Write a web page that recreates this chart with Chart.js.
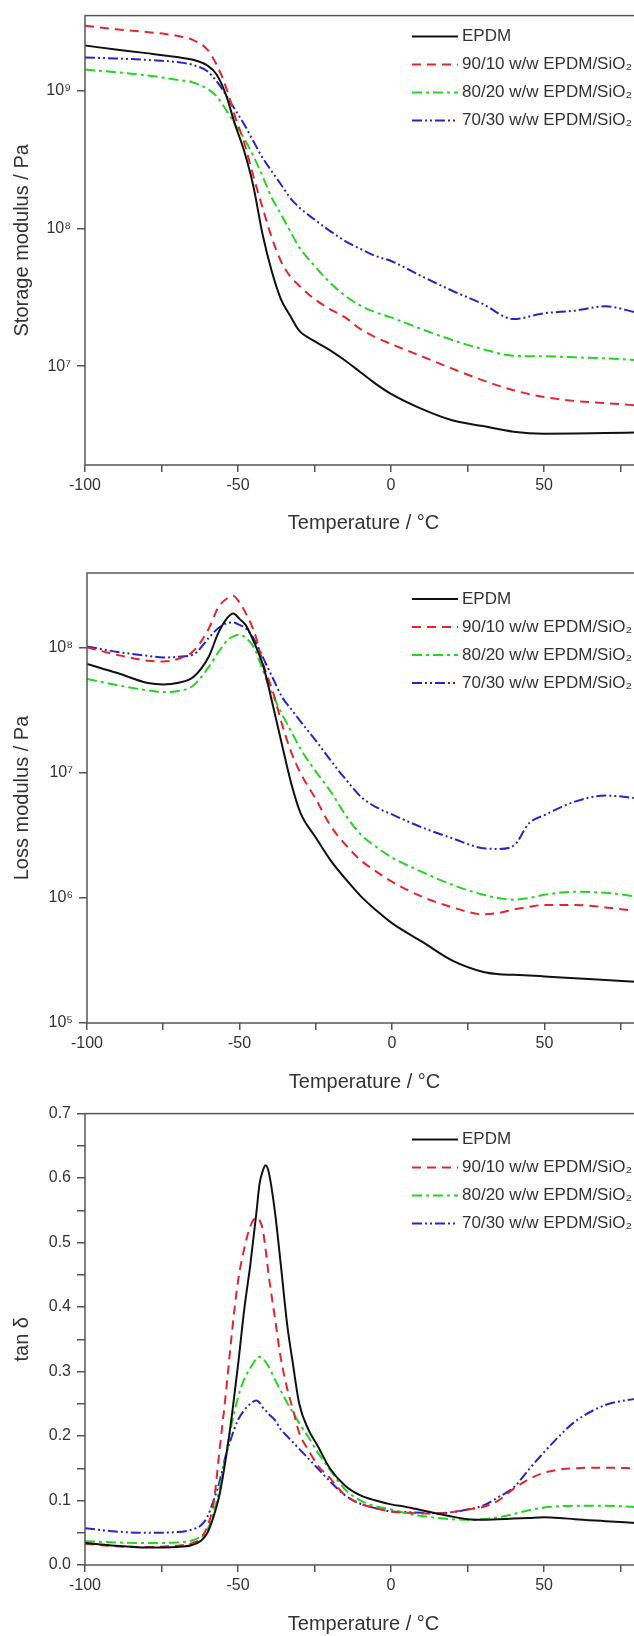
<!DOCTYPE html>
<html lang="en">
<head>
  <meta charset="UTF-8">
  <title>DMA of EPDM/SiO2 composites</title>
  <script src="https://cdn.jsdelivr.net/npm/chart.js"></script>
  <style>
    html, body { margin: 0; padding: 0; background: #fff; overflow: hidden; width: 634px; height: 1636px; }
    canvas { position: absolute; left: 0; }
  </style>
</head>
<body>
  <canvas id="storageChart" width="642" height="539" style="top:0px"></canvas>
  <canvas id="lossChart" width="642" height="559" style="top:539px"></canvas>
  <canvas id="tanChart" width="642" height="538" style="top:1098px"></canvas>

  <script>
    // series names (legend)
    const seriesLabels = ['EPDM', '90/10 w/w EPDM/SiO₂', '80/20 w/w EPDM/SiO₂', '70/30 w/w EPDM/SiO₂'];
    const xTicks = [-100, -75, -50, -25, 0, 25, 50, 75];

    // storage modulus (Pa)
    const tempStorage = [-100, -90, -80, -70, -65, -60, -57, -54, -51, -48, -45, -42, -39, -36, -33, -30, -25, -20, -15, -10, -5, 0, 10, 20, 30, 40, 50, 60, 70, 80];
    const storageEPDM = [2.12e9, 1.99e9, 1.87e9, 1.75e9, 1.68e9, 1.52e9, 1.31e9, 9.4e8, 5.7e8, 3.64e8, 2.03e8, 9.1e7, 4.9e7, 3.07e7, 2.33e7, 1.81e7, 1.52e7, 1.31e7, 1.1e7, 9.05e6, 7.45e6, 6.3e6, 4.9e6, 4.05e6, 3.68e6, 3.35e6, 3.24e6, 3.25e6, 3.28e6, 3.3e6];
    const storage90 = [2.95e9, 2.79e9, 2.66e9, 2.5e9, 2.34e9, 1.98e9, 1.54e9, 1.07e9, 6.5e8, 4.2e8, 2.4e8, 1.42e8, 8.6e7, 5.8e7, 4.5e7, 3.84e7, 3.07e7, 2.6e7, 2.26e7, 1.86e7, 1.62e7, 1.45e7, 1.18e7, 9.6e6, 7.9e6, 6.7e6, 5.97e6, 5.6e6, 5.4e6, 5.2e6];
    const storage80 = [1.42e9, 1.36e9, 1.29e9, 1.2e9, 1.15e9, 1.03e9, 9.1e8, 7.3e8, 5.7e8, 4.5e8, 3.35e8, 2.4e8, 1.67e8, 1.27e8, 9.6e7, 7.3e7, 5.35e7, 4.05e7, 3.25e7, 2.75e7, 2.46e7, 2.26e7, 1.86e7, 1.55e7, 1.33e7, 1.19e7, 1.18e7, 1.16e7, 1.14e7, 1.11e7];
    const storage70 = [1.74e9, 1.71e9, 1.67e9, 1.61e9, 1.54e9, 1.38e9, 1.17e9, 9.35e8, 7.3e8, 5.7e8, 4.3e8, 3.26e8, 2.6e8, 2.09e8, 1.67e8, 1.42e8, 1.16e8, 9.6e7, 8.1e7, 7.1e7, 6.3e7, 5.8e7, 4.5e7, 3.53e7, 2.83e7, 2.2e7, 2.42e7, 2.53e7, 2.72e7, 2.46e7];

    // loss modulus (Pa)
    const tempLoss = [-100, -90, -80, -75, -70, -65, -60, -57, -54, -52, -50, -48, -45, -42, -39, -36, -33, -30, -25, -20, -15, -10, -5, 0, 10, 20, 30, 35, 40, 45, 50, 60, 70, 80];
    const lossEPDM = [7.46e7, 6.3e7, 5.24e7, 5.1e7, 5.27e7, 5.9e7, 8.6e7, 1.31e8, 1.74e8, 1.89e8, 1.71e8, 1.53e8, 1.08e8, 6.9e7, 3.44e7, 1.66e7, 8.2e6, 4.8e6, 3.05e6, 1.98e6, 1.4e6, 1.02e6, 7.9e5, 6.3e5, 4.45e5, 3.14e5, 2.56e5, 2.46e5, 2.43e5, 2.4e5, 2.36e5, 2.28e5, 2.21e5, 2.14e5];
    const loss90 = [1.01e8, 8.8e7, 7.9e7, 7.8e7, 8.2e7, 9.5e7, 1.44e8, 2.1e8, 2.5e8, 2.6e8, 2.31e8, 1.91e8, 1.31e8, 7.15e7, 4.44e7, 2.43e7, 1.46e7, 1.0e7, 6.2e6, 3.74e6, 2.63e6, 1.98e6, 1.62e6, 1.35e6, 1.02e6, 8.4e5, 7.4e5, 7.6e5, 8.1e5, 8.5e5, 8.8e5, 8.8e5, 8.4e5, 7.9e5];
    const loss80 = [5.65e7, 5.04e7, 4.58e7, 4.44e7, 4.52e7, 5.04e7, 7.1e7, 9.2e7, 1.15e8, 1.24e8, 1.28e8, 1.21e8, 9.8e7, 6.3e7, 4.17e7, 2.94e7, 2.14e7, 1.56e7, 1.03e7, 7.05e6, 4.52e6, 3.18e6, 2.55e6, 2.11e6, 1.61e6, 1.27e6, 1.06e6, 1.0e6, 9.7e5, 1.0e6, 1.06e6, 1.12e6, 1.1e6, 1.03e6];
    const loss70 = [1.03e8, 9.3e7, 8.65e7, 8.4e7, 8.5e7, 8.9e7, 1.21e8, 1.44e8, 1.58e8, 1.6e8, 1.53e8, 1.44e8, 1.15e8, 8.1e7, 5.7e7, 4.04e7, 3.23e7, 2.59e7, 1.82e7, 1.25e7, 8.8e6, 6.4e6, 5.3e6, 4.66e6, 3.66e6, 2.99e6, 2.5e6, 2.47e6, 2.63e6, 3.97e6, 4.6e6, 5.9e6, 6.6e6, 6.3e6];

    // tan delta
    const tempTan = [-100, -90, -80, -70, -65, -62, -60, -58, -56, -54, -52, -50, -48, -46, -44, -43, -42, -41, -40, -38, -36, -34, -32, -30, -27, -24, -20, -15, -10, -5, 0, 5, 10, 15, 20, 25, 30, 35, 40, 45, 50, 55, 60, 70, 80];
    const tanEPDM = [0.034, 0.030, 0.027, 0.028, 0.031, 0.038, 0.05, 0.075, 0.11, 0.165, 0.232, 0.31, 0.395, 0.465, 0.546, 0.59, 0.61, 0.62, 0.61, 0.55, 0.465, 0.375, 0.31, 0.25, 0.21, 0.185, 0.15, 0.123, 0.108, 0.10, 0.094, 0.09, 0.085, 0.08, 0.075, 0.071, 0.07, 0.071, 0.072, 0.073, 0.074, 0.073, 0.071, 0.068, 0.065];
    const tan90 = [0.033, 0.029, 0.028, 0.03, 0.034, 0.042, 0.06, 0.095, 0.18, 0.265, 0.36, 0.44, 0.49, 0.525, 0.539, 0.535, 0.522, 0.49, 0.45, 0.385, 0.32, 0.275, 0.24, 0.205, 0.178, 0.155, 0.135, 0.108, 0.095, 0.088, 0.083, 0.081, 0.08, 0.08, 0.082, 0.086, 0.09, 0.1, 0.118, 0.133, 0.143, 0.148, 0.15, 0.151, 0.15];
    const tan80 = [0.037, 0.035, 0.034, 0.035, 0.038, 0.045, 0.055, 0.08, 0.12, 0.17, 0.22, 0.26, 0.288, 0.305, 0.32, 0.323, 0.32, 0.315, 0.308, 0.288, 0.27, 0.252, 0.236, 0.22, 0.198, 0.175, 0.148, 0.117, 0.1, 0.091, 0.086, 0.08, 0.076, 0.073, 0.071, 0.07, 0.071, 0.074, 0.079, 0.085, 0.089, 0.091, 0.092, 0.092, 0.09];
    const tan70 = [0.057, 0.052, 0.05, 0.051, 0.055, 0.062, 0.075, 0.1, 0.13, 0.17, 0.2, 0.225, 0.24, 0.25, 0.255, 0.252, 0.245, 0.24, 0.234, 0.225, 0.21, 0.2, 0.19, 0.18, 0.165, 0.15, 0.13, 0.108, 0.095, 0.088, 0.083, 0.082, 0.081, 0.08, 0.082, 0.086, 0.092, 0.105, 0.12, 0.148, 0.175, 0.2, 0.222, 0.248, 0.258];

    const FONT = '"Liberation Sans", Arial, sans-serif';
    const lineStyles = [
      { color: '#111111', dash: [] },
      { color: '#e3262c', dash: [9, 6] },
      { color: '#22d622', dash: [10, 4, 3, 4] },
      { color: '#2626c4', dash: [10, 3, 2, 3, 2, 3] }
    ];
    const sup = { 5: '⁵', 6: '⁶', 7: '⁷', 8: '⁸', 9: '⁹' };

    // box around the plot area
    const framePlugin = {
      id: 'frame',
      afterDatasetsDraw(chart) {
        const { ctx, chartArea: a } = chart;
        ctx.save();
        ctx.strokeStyle = '#555';
        ctx.lineWidth = 1.5;
        ctx.setLineDash([]);
        ctx.strokeRect(a.left, a.top, a.right - a.left, a.bottom - a.top);
        ctx.restore();
      }
    };

    // legend drawn inside the plot, top right
    const insideLegend = {
      id: 'insideLegend',
      afterDraw(chart, args, opts) {
        const ctx = chart.ctx;
        ctx.save();
        ctx.font = '17px ' + FONT;
        ctx.textBaseline = 'middle';
        chart.data.datasets.forEach((ds, i) => {
          const y = chart.chartArea.top + opts.top + i * 28;
          ctx.strokeStyle = ds.borderColor;
          ctx.lineWidth = 2;
          ctx.setLineDash(ds.borderDash);
          ctx.beginPath();
          ctx.moveTo(412, y);
          ctx.lineTo(458, y);
          ctx.stroke();
          ctx.fillStyle = '#333';
          ctx.fillText(ds.label, 462, y);
        });
        ctx.restore();
      }
    };

    function makeDatasets(temps, seriesList) {
      return seriesList.map((vals, i) => ({
        label: seriesLabels[i],
        data: temps.map((t, j) => ({ x: t, y: vals[j] })),
        borderColor: lineStyles[i].color,
        borderDash: lineStyles[i].dash,
        borderWidth: 2,
        pointRadius: 0,
        fill: false,
        cubicInterpolationMode: 'monotone'
      }));
    }

    function xAxis(height, titleBottom) {
      return {
        type: 'linear',
        min: -100,
        max: 82,
        afterBuildTicks: s => { s.ticks = xTicks.map(v => ({ value: v })); },
        afterFit: s => { s.height = height; },
        ticks: {
          callback: v => (v % 50 === 0 ? String(v) : ''),
          font: { family: FONT, size: 16 },
          color: '#333',
          padding: 4,
          maxRotation: 0,
          autoSkip: false
        },
        grid: { drawOnChartArea: false, drawTicks: true, tickLength: 7, color: '#555', lineWidth: 1.5 },
        border: { display: false },
        title: {
          display: true,
          text: 'Temperature / °C',
          font: { family: FONT, size: 20 },
          color: '#333',
          padding: { top: 0, bottom: titleBottom }
        }
      };
    }

    function yAxis(extra, width, title) {
      return Object.assign({
        afterFit: s => { s.width = width; },
        grid: { drawOnChartArea: false, drawTicks: true, tickLength: 8, color: '#555', lineWidth: 1.5 },
        border: { display: false },
        title: {
          display: true,
          text: title,
          font: { family: FONT, size: 20 },
          color: '#333',
          padding: { top: 10, bottom: 0 }
        }
      }, extra);
    }

    function logTicks(values) {
      return {
        afterBuildTicks: s => { s.ticks = values.map(v => ({ value: v })); },
        ticks: {
          callback: v => '10' + sup[Math.round(Math.log10(v))],
          font: { family: FONT, size: 16 },
          color: '#333',
          padding: 6,
          autoSkip: false
        }
      };
    }

    function makeChart(id, datasets, scales, padTop, legendTop) {
      return new Chart(document.getElementById(id), {
        type: 'line',
        data: { datasets },
        options: {
          responsive: false,
          animation: false,
          parsing: true,
          layout: { padding: { top: padTop, left: 0, right: 0, bottom: 0 } },
          scales,
          plugins: {
            legend: { display: false },
            tooltip: { enabled: false },
            insideLegend: { top: legendTop }
          }
        },
        plugins: [framePlugin, insideLegend]
      });
    }

    makeChart('storageChart',
      makeDatasets(tempStorage, [storageEPDM, storage90, storage80, storage70]),
      {
        x: xAxis(74, 4),
        y: yAxis(Object.assign({ type: 'logarithmic', min: 1.92e6, max: 3.5e9 }, logTicks([1e7, 1e8, 1e9])), 85, 'Storage modulus / Pa')
      }, 15, 21);

    makeChart('lossChart',
      makeDatasets(tempLoss, [lossEPDM, loss90, loss80, loss70]),
      {
        x: xAxis(75, 4),
        y: yAxis(Object.assign({ type: 'logarithmic', min: 1e5, max: 3.98e8 }, logTicks([1e5, 1e6, 1e7, 1e8])), 87, 'Loss modulus / Pa')
      }, 34, 26);

    makeChart('tanChart',
      makeDatasets(tempTan, [tanEPDM, tan90, tan80, tan70]),
      {
        x: xAxis(71, 0),
        y: yAxis({
          type: 'linear',
          min: 0,
          max: 0.7,
          ticks: {
            stepSize: 0.05,
            callback: v => (Math.round(v * 100) % 10 === 0 ? v.toFixed(1) : ''),
            font: { family: FONT, size: 16 },
            color: '#333',
            padding: 6,
            autoSkip: false
          }
        }, 85, 'tan δ')
      }, 12, 26);
  </script>
</body>
</html>
